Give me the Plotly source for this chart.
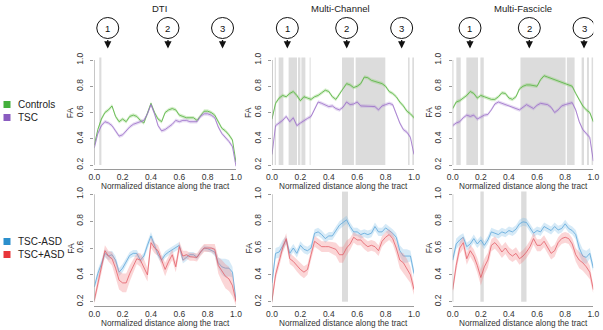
import plotly.graph_objects as go

# ---------------- data ----------------
DIST = [0.0, 0.025, 0.05, 0.075, 0.1, 0.125, 0.15, 0.175, 0.2, 0.225, 0.25, 0.275,
        0.3, 0.325, 0.35, 0.375, 0.4, 0.425, 0.45, 0.475, 0.5, 0.525, 0.55, 0.575,
        0.6, 0.625, 0.65, 0.675, 0.7, 0.725, 0.75, 0.775, 0.8, 0.825, 0.85, 0.875,
        0.9, 0.925, 0.95, 0.975, 1.0]

# Top row: Controls vs TSC
dti_controls = [0.35, 0.47, 0.55, 0.60, 0.62, 0.65, 0.57, 0.53, 0.55, 0.53, 0.57, 0.58,
                0.57, 0.54, 0.52, 0.59, 0.67, 0.60, 0.55, 0.53, 0.60, 0.62, 0.63, 0.62,
                0.58, 0.57, 0.56, 0.56, 0.56, 0.54, 0.58, 0.61, 0.61, 0.60, 0.58, 0.53,
                0.48, 0.46, 0.43, 0.39, 0.22]
dti_tsc = [0.33, 0.44, 0.50, 0.53, 0.52, 0.50, 0.46, 0.42, 0.43, 0.46, 0.49, 0.51,
           0.52, 0.53, 0.54, 0.59, 0.66, 0.59, 0.50, 0.46, 0.47, 0.49, 0.51, 0.54,
           0.53, 0.54, 0.54, 0.53, 0.53, 0.53, 0.57, 0.59, 0.59, 0.58, 0.56, 0.49,
           0.44, 0.41, 0.38, 0.34, 0.19]
mc_controls = [0.55, 0.67, 0.71, 0.73, 0.72, 0.745, 0.76, 0.73, 0.69, 0.72, 0.71, 0.70,
               0.72, 0.73, 0.75, 0.77, 0.76, 0.72, 0.70, 0.74, 0.79, 0.82, 0.81, 0.79,
               0.80, 0.82, 0.87, 0.865, 0.845, 0.835, 0.83, 0.82, 0.80, 0.76, 0.745, 0.72,
               0.68, 0.65, 0.61, 0.59, 0.56]
mc_tsc = [0.28, 0.50, 0.52, 0.54, 0.57, 0.53, 0.56, 0.50, 0.52, 0.54, 0.555, 0.57,
          0.62, 0.68, 0.67, 0.66, 0.645, 0.65, 0.63, 0.62, 0.64, 0.68, 0.66, 0.665,
          0.68, 0.65, 0.65, 0.65, 0.65, 0.645, 0.62, 0.65, 0.66, 0.67, 0.66, 0.59,
          0.52, 0.47, 0.45, 0.41, 0.28]
mf_controls = [0.63, 0.68, 0.69, 0.71, 0.73, 0.76, 0.745, 0.71, 0.73, 0.72, 0.71, 0.70,
               0.70, 0.72, 0.75, 0.745, 0.71, 0.70, 0.72, 0.78, 0.80, 0.81, 0.81, 0.805,
               0.80, 0.85, 0.88, 0.87, 0.86, 0.85, 0.84, 0.83, 0.82, 0.81, 0.80, 0.745,
               0.70, 0.65, 0.62, 0.60, 0.53]
mf_tsc = [0.50, 0.52, 0.53, 0.56, 0.58, 0.57, 0.58, 0.55, 0.565, 0.58, 0.585, 0.62,
          0.665, 0.68, 0.67, 0.66, 0.655, 0.645, 0.63, 0.62, 0.64, 0.66, 0.645, 0.63,
          0.655, 0.67, 0.665, 0.66, 0.64, 0.60, 0.62, 0.65, 0.66, 0.665, 0.675, 0.62,
          0.53, 0.47, 0.44, 0.41, 0.23]

# Bottom row: TSC-ASD vs TSC+ASD
dti_noasd = [0.31, 0.41, 0.48, 0.56, 0.54, 0.55, 0.51, 0.42, 0.45, 0.50, 0.545, 0.56,
             0.56, 0.51, 0.54, 0.62, 0.69, 0.62, 0.55, 0.51, 0.55, 0.57, 0.585, 0.60,
             0.62, 0.51, 0.53, 0.55, 0.55, 0.53, 0.57, 0.60, 0.595, 0.585, 0.57, 0.49,
             0.46, 0.45, 0.45, 0.42, 0.21]
dti_asd = [0.21, 0.34, 0.45, 0.58, 0.54, 0.52, 0.45, 0.36, 0.34, 0.34, 0.41, 0.47,
           0.52, 0.51, 0.46, 0.40, 0.64, 0.60, 0.58, 0.51, 0.44, 0.50, 0.55, 0.46,
           0.61, 0.54, 0.55, 0.535, 0.535, 0.53, 0.57, 0.60, 0.60, 0.60, 0.59, 0.47,
           0.43, 0.39, 0.37, 0.32, 0.20]
mc_noasd = [0.34, 0.56, 0.57, 0.62, 0.66, 0.56, 0.60, 0.56, 0.62, 0.59, 0.58, 0.60,
            0.71, 0.72, 0.70, 0.67, 0.69, 0.69, 0.73, 0.77, 0.79, 0.81, 0.76, 0.72,
            0.72, 0.70, 0.71, 0.70, 0.71, 0.76, 0.72, 0.72, 0.75, 0.73, 0.71, 0.68,
            0.58, 0.54, 0.54, 0.54, 0.41]
mc_asd = [0.21, 0.40, 0.50, 0.60, 0.67, 0.52, 0.50, 0.47, 0.44, 0.42, 0.44, 0.55,
          0.65, 0.63, 0.61, 0.61, 0.61, 0.60, 0.59, 0.55, 0.55, 0.60, 0.63, 0.68,
          0.66, 0.66, 0.63, 0.61, 0.62, 0.61, 0.58, 0.65, 0.68, 0.70, 0.67, 0.60,
          0.51, 0.49, 0.45, 0.40, 0.29]
mf_noasd = [0.51, 0.63, 0.66, 0.68, 0.61, 0.63, 0.67, 0.63, 0.66, 0.62, 0.66, 0.72,
            0.71, 0.70, 0.72, 0.71, 0.73, 0.72, 0.74, 0.78, 0.795, 0.79, 0.75, 0.71,
            0.73, 0.72, 0.76, 0.745, 0.73, 0.76, 0.735, 0.745, 0.78, 0.745, 0.73, 0.70,
            0.60, 0.54, 0.53, 0.56, 0.45]
mf_asd = [0.29, 0.47, 0.60, 0.64, 0.52, 0.58, 0.54, 0.47, 0.38, 0.46, 0.51, 0.62,
          0.64, 0.61, 0.57, 0.60, 0.56, 0.54, 0.56, 0.52, 0.54, 0.57, 0.61, 0.67,
          0.62, 0.62, 0.65, 0.60, 0.56, 0.58, 0.64, 0.67, 0.68, 0.67, 0.63, 0.55,
          0.51, 0.49, 0.46, 0.42, 0.29]

# confidence band half-widths
band_controls = [0.014] * 41
band_tsc = [0.014] * 41
dti_noasd_band = [0.02, 0.03, 0.03, 0.03, 0.03, 0.03, 0.03, 0.03, 0.03, 0.03, 0.025, 0.025,
                  0.025, 0.025, 0.025, 0.03, 0.03, 0.03, 0.025, 0.025, 0.025, 0.025, 0.025, 0.025,
                  0.025, 0.025, 0.025, 0.02, 0.02, 0.02, 0.02, 0.02, 0.02, 0.02, 0.03, 0.04,
                  0.06, 0.07, 0.06, 0.04, 0.02]
dti_asd_band = [0.03, 0.04, 0.04, 0.04, 0.04, 0.05, 0.06, 0.07, 0.07, 0.07, 0.06, 0.05,
                0.04, 0.05, 0.06, 0.05, 0.04, 0.04, 0.04, 0.04, 0.05, 0.04, 0.04, 0.04,
                0.04, 0.04, 0.03, 0.03, 0.03, 0.03, 0.03, 0.03, 0.03, 0.03, 0.04, 0.06,
                0.08, 0.09, 0.09, 0.08, 0.03]
mc_noasd_band = [0.03, 0.04, 0.04, 0.04, 0.03, 0.03, 0.03, 0.03, 0.03, 0.03, 0.03, 0.03,
                 0.03, 0.03, 0.03, 0.03, 0.03, 0.03, 0.03, 0.03, 0.03, 0.03, 0.03, 0.03,
                 0.03, 0.03, 0.03, 0.03, 0.03, 0.03, 0.03, 0.03, 0.03, 0.03, 0.03, 0.03,
                 0.04, 0.05, 0.05, 0.04, 0.03]
mc_asd_band = [0.03, 0.04, 0.04, 0.04, 0.04, 0.04, 0.04, 0.045, 0.045, 0.045, 0.04, 0.04,
               0.04, 0.04, 0.04, 0.04, 0.04, 0.045, 0.05, 0.06, 0.06, 0.055, 0.045, 0.04,
               0.04, 0.04, 0.04, 0.04, 0.04, 0.04, 0.04, 0.04, 0.04, 0.04, 0.04, 0.05,
               0.06, 0.07, 0.07, 0.06, 0.04]
mf_noasd_band = [0.03, 0.04, 0.035, 0.03, 0.03, 0.03, 0.03, 0.03, 0.03, 0.03, 0.03, 0.03,
                 0.03, 0.03, 0.03, 0.03, 0.03, 0.03, 0.03, 0.03, 0.03, 0.03, 0.03, 0.03,
                 0.03, 0.03, 0.03, 0.03, 0.03, 0.03, 0.03, 0.03, 0.03, 0.03, 0.03, 0.035,
                 0.05, 0.05, 0.05, 0.04, 0.03]
mf_asd_band = [0.03, 0.045, 0.045, 0.045, 0.045, 0.045, 0.05, 0.055, 0.06, 0.06, 0.055, 0.045,
               0.045, 0.045, 0.045, 0.045, 0.045, 0.045, 0.045, 0.045, 0.045, 0.045, 0.045, 0.045,
               0.045, 0.045, 0.045, 0.045, 0.045, 0.045, 0.04, 0.04, 0.04, 0.04, 0.045, 0.05,
               0.06, 0.06, 0.06, 0.05, 0.03]

# significant regions (start, end) along the tract
sig_top = {
    "DTI": [(0.035, 0.05)],
    "MC": [(0.019, 0.028), (0.047, 0.080), (0.117, 0.176), (0.183, 0.200),
           (0.207, 0.235), (0.265, 0.272), (0.493, 0.577), (0.589, 0.798),
           (0.958, 0.969), (0.988, 1.0)],
    "MF": [(0.026, 0.057), (0.097, 0.180), (0.197, 0.221), (0.482, 0.803),
           (0.812, 0.867), (0.917, 0.934), (0.955, 0.969), (0.988, 1.0)],
}
sig_bottom = {
    "DTI": [],
    "MC": [(0.493, 0.535)],
    "MF": [(0.197, 0.221), (0.487, 0.525)],
}

panel_titles = ["DTI", "Multi-Channel", "Multi-Fascicle"]
title_pos = [0.46, 0.479, 0.503]
marker_labels = ["1", "2", "3"]
marker_pos = [[0.095, 0.52, 0.905], [0.108, 0.526, 0.913], [0.123, 0.545, 0.934]]
x_ticks = [0.0, 0.2, 0.4, 0.6, 0.8, 1.0]
y_ticks = [0.2, 0.4, 0.6, 0.8, 1.0]
top_groups = ["Controls", "TSC"]
bottom_groups = ["TSC-ASD", "TSC+ASD"]

# ---------------- styling ----------------
W, H = 603, 330
FONT = "Liberation Sans, Arial, Helvetica, sans-serif"
COL = {
    "Controls": ("rgba(90,180,70,0.85)", "rgba(130,205,100,0.33)", "#44b03c"),
    "TSC": ("rgba(155,110,200,0.8)", "rgba(175,140,215,0.3)", "#8a5cc0"),
    "TSC-ASD": ("rgba(100,170,220,0.85)", "rgba(130,190,232,0.33)", "#2b8fcc"),
    "TSC+ASD": ("rgba(228,95,105,0.8)", "rgba(242,130,135,0.33)", "#e8363a"),
}
GRAY = "#dcdcdc"
AX = "#9a9a9a"
TXT = "#333333"

xdom = [(94.3 / W, 236.0 / W), (272.0 / W, 414.0 / W), (452.7 / W, 593.3 / W)]
ydom_top = (1 - 169.2 / H, 1 - 55.8 / H)
ydom_bot = (1 - 306.0 / H, 1 - 190.0 / H)

fig = go.Figure()

panels = [
    ("DTI", 0, 0, dti_controls, dti_tsc, top_groups, (band_controls, band_tsc)),
    ("MC", 1, 0, mc_controls, mc_tsc, top_groups, (band_controls, band_tsc)),
    ("MF", 2, 0, mf_controls, mf_tsc, top_groups, (band_controls, band_tsc)),
    ("DTI", 0, 1, dti_noasd, dti_asd, bottom_groups, (dti_noasd_band, dti_asd_band)),
    ("MC", 1, 1, mc_noasd, mc_asd, bottom_groups, (mc_noasd_band, mc_asd_band)),
    ("MF", 2, 1, mf_noasd, mf_asd, bottom_groups, (mf_noasd_band, mf_asd_band)),
]

shapes = []
annotations = []

for idx, (key, col, row, s1, s2, groups, bands) in enumerate(panels):
    n = idx + 1
    xa = "x" if n == 1 else f"x{n}"
    ya = "y" if n == 1 else f"y{n}"
    xname = "xaxis" if n == 1 else f"xaxis{n}"
    yname = "yaxis" if n == 1 else f"yaxis{n}"

    for series, grp, bw in zip((s1, s2), groups, bands):
        line_c, band_c, _ = COL[grp]
        upper = [v + w for v, w in zip(series, bw)]
        lower = [v - w for v, w in zip(series, bw)]
        fig.add_trace(go.Scatter(
            x=DIST + DIST[::-1], y=upper + lower[::-1], fill="toself",
            fillcolor=band_c, line=dict(width=0), mode="lines",
            hoverinfo="skip", showlegend=False, xaxis=xa, yaxis=ya))
        fig.add_trace(go.Scatter(
            x=DIST, y=series, mode="lines", line=dict(color=line_c, width=1),
            name=grp, showlegend=False, xaxis=xa, yaxis=ya))

    sig = (sig_top if row == 0 else sig_bottom)[key]
    for a, b in sig:
        shapes.append(dict(type="rect", xref=xa, yref=ya, x0=a, x1=b, y0=0.2, y1=1.02,
                           fillcolor=GRAY, line=dict(width=0), layer="below"))
    # y axis line from 0.2 to 1.0
    shapes.append(dict(type="line", xref=xa, yref=ya, x0=0, x1=0, y0=0.2, y1=1.0,
                       line=dict(color=AX, width=1)))

    fig.layout[xname] = dict(
        domain=xdom[col], range=[0, 1], anchor=ya, showgrid=False, zeroline=False,
        showline=True, linecolor=AX, linewidth=1, ticks="",
        tickvals=x_ticks, ticktext=[f"{v:.1f}" for v in x_ticks],
        tickfont=dict(size=8.5, color=TXT, family=FONT), ticklabelstandoff=0,
        automargin=False)
    fig.layout[yname] = dict(
        domain=ydom_top if row == 0 else ydom_bot, range=[0.168, 1.032], anchor=xa,
        showgrid=False, zeroline=False, showline=False, ticks="outside", ticklen=3,
        tickcolor=AX, tickvals=y_ticks, ticktext=[f"{v:.1f}" for v in y_ticks],
        tickangle=-90, tickfont=dict(size=8.5, color=TXT, family=FONT),
        ticklabelstandoff=4, automargin=False)

    # axis titles
    annotations.append(dict(text="Normalized distance along the tract", xref=f"{xa} domain",
                            yref=f"{ya} domain", x=0.5, y=0, yshift=-17, showarrow=False,
                            xanchor="center", yanchor="middle",
                            font=dict(size=8.2, color=TXT, family=FONT)))
    annotations.append(dict(text="FA", xref=f"{xa} domain", yref=f"{ya} domain", x=0,
                            y=0.5, xshift=-23.5, textangle=-90, showarrow=False,
                            xanchor="center", yanchor="middle",
                            font=dict(size=8.5, color=TXT, family=FONT)))

    if row == 0:
        annotations.append(dict(text=panel_titles[col], xref=xa, yref="paper",
                                x=title_pos[col], y=1 - 8 / H, showarrow=False,
                                xanchor="center", yanchor="middle",
                                font=dict(size=9.5, color="#222222", family=FONT)))
        for lab, pos in zip(marker_labels, marker_pos[col]):
            shapes.append(dict(type="circle", xref=xa, yref="paper", xsizemode="pixel",
                               ysizemode="pixel", xanchor=pos, yanchor=1 - 28 / H,
                               x0=-11, x1=11, y0=-10.5, y1=10.5,
                               line=dict(color="#111111", width=1), fillcolor="white"))
            annotations.append(dict(text=lab, xref=xa, yref="paper", x=pos,
                                    y=1 - 28.5 / H, showarrow=False, xanchor="center",
                                    yanchor="middle",
                                    font=dict(size=9.5, color="#111111", family=FONT)))
            annotations.append(dict(text="", xref=xa, yref="paper", x=pos, y=1 - 48.5 / H,
                                    showarrow=True, ax=0, ay=-10, arrowhead=2,
                                    arrowsize=1.1, arrowwidth=1.3, arrowcolor="#111111"))

# legends (squares + text)
legend_rows = [(top_groups, [104.5, 117.5]), (bottom_groups, [241.5, 254.5])]
for groups, ys in legend_rows:
    for grp, yp in zip(groups, ys):
        shapes.append(dict(type="rect", xref="paper", yref="paper", x0=3.5 / W, x1=10.5 / W,
                           y0=1 - (yp + 3.5) / H, y1=1 - (yp - 3.5) / H,
                           fillcolor=COL[grp][2], line=dict(width=0)))
        annotations.append(dict(text=grp, xref="paper", yref="paper", x=16 / W,
                                y=1 - yp / H, showarrow=False, xanchor="left",
                                yanchor="middle",
                                font=dict(size=10, color="#222222", family=FONT)))

fig.update_layout(width=W, height=H, margin=dict(l=0, r=0, t=0, b=0, autoexpand=False),
                  paper_bgcolor="white", plot_bgcolor="white", showlegend=False,
                  shapes=shapes, annotations=annotations,
                  font=dict(family=FONT, size=9, color=TXT))

fig.write_html("out.html", config={"displayModeBar": False},
               post_script="document.body.style.margin='0px';"
                           "document.body.style.overflow='hidden';")
